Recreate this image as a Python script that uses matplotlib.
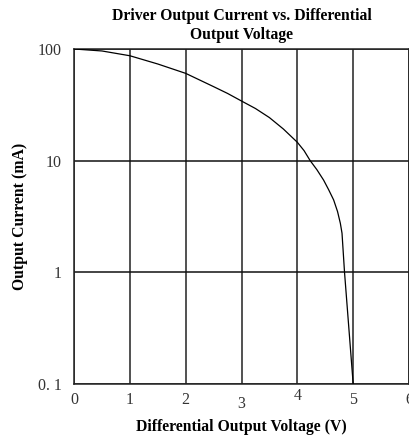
import matplotlib
matplotlib.use("Agg")
import matplotlib.pyplot as plt
import numpy as np

# Data
voltage = [0, 0.5, 1.0, 1.5, 2.0, 2.5, 2.75, 3.0, 3.25, 3.5, 3.75, 4.0, 4.12,
           4.23, 4.35, 4.47, 4.56, 4.65, 4.72, 4.77, 4.80, 4.845, 5.0]
current = [100, 96, 87, 73.4, 60.5, 46, 40, 34.2, 29.3, 24.3, 19.2, 14.6, 12.3,
           10, 8.3, 6.7, 5.5, 4.45, 3.5, 2.75, 2.24, 1.0, 0.1]
x_ticks = [0, 1, 2, 3, 4, 5, 6]
x_tick_labels = ["0", "1", "2", "3", "4", "5", "6"]
y_ticks = [0.1, 1, 10, 100]
y_tick_labels = ["0. 1", "1", "10", "100"]

fig = plt.figure(figsize=(4.10, 4.37), dpi=100)
ax = fig.add_axes([0.1805, 0.1213, 0.8171, 0.7666])

ax.set_yscale("log")
ax.set_xlim(0, 6)
ax.set_ylim(0.1, 100)

serif = ["Liberation Serif", "DejaVu Serif"]

# grid
for xv in x_ticks:
    ax.axvline(xv, color="#222222", lw=1.1, zorder=1)
for yv in y_ticks:
    ax.axhline(yv, color="#111111", lw=1.1, zorder=1)

ax.plot(voltage, current, color="black", lw=0.9, zorder=3)

for s in ax.spines.values():
    s.set_color("#222222")
    s.set_linewidth(1.1)

ax.set_xticks(x_ticks)
ax.set_xticklabels(x_tick_labels)
ax.set_yticks(y_ticks)
ax.set_yticklabels(y_tick_labels)
ax.minorticks_off()
ax.tick_params(axis="both", length=0, labelsize=11.5, colors="#333333")
ax.tick_params(axis="x", pad=6)
ax.tick_params(axis="y", pad=9)
for lbl in ax.get_xticklabels() + ax.get_yticklabels():
    lbl.set_fontfamily(serif)
xl = ax.get_xticklabels()
xl[3].set_y(-0.012)
xl[4].set_y(0.012)

ax.set_title("Driver Output Current vs. Differential\nOutput Voltage",
             fontfamily=serif, fontweight="bold", fontsize=11.3, pad=7,
             linespacing=1.25)
ax.set_xlabel("Differential Output Voltage (V)", fontfamily=serif,
              fontweight="bold", fontsize=11.3, labelpad=5)
ax.set_ylabel("Output Current (mA)", fontfamily=serif,
              fontweight="bold", fontsize=11.3, labelpad=7)

fig.savefig("out.png", dpi=100)
